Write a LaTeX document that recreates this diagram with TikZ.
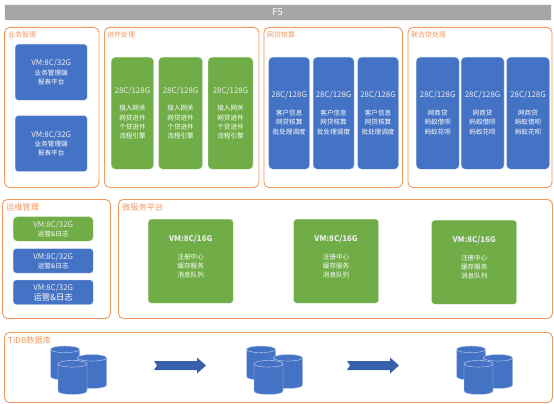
\documentclass[tikz,border=0pt]{standalone}
\usepackage{fontspec}
\setmainfont{Noto Sans CJK SC}
\usetikzlibrary{positioning}
\definecolor{Bleu}{RGB}{68,114,196}
\definecolor{BleuFonce}{RGB}{56,96,170}
\definecolor{Vert}{RGB}{112,173,71}
\definecolor{Gris}{RGB}{166,166,166}
\definecolor{Cadre}{RGB}{244,151,92}
\tikzset{panel/.style={rectangle, rounded corners=5pt, draw=Cadre, fill=white,
  line width=0.9pt, anchor=north west}}
\tikzset{titre/.style={text=Cadre, font=\fontsize{7}{8}\selectfont, inner sep=0pt, anchor=north west}}
\tikzset{titreg/.style={titre, font=\fontsize{8.2}{9}\selectfont}}
\tikzset{boite/.style={rectangle, rounded corners=4pt, draw=white!75!Bleu, line width=0.4pt,
  fill=Bleu, text=white, align=center, inner sep=0pt, anchor=north west,
  font=\fontsize{6.6}{9.4}\selectfont}}
\tikzset{gboite/.style={boite, fill=Vert, draw=white!75!Vert}}
\tikzset{vmbox/.style={boite, rounded corners=3pt, minimum width=72pt, minimum height=56pt}}
\tikzset{opsbox/.style={boite, rounded corners=3pt, minimum width=80pt, minimum height=24.5pt}}
\tikzset{svcbox/.style={gboite, rounded corners=3pt, minimum width=85pt, minimum height=84pt}}
\tikzset{cuve/.pic={
  \draw[draw=white!70!Bleu, line width=0.4pt, fill=Bleu] (-14.5,-13.7) -- (-14.5,13.7)
    .. controls (-14.5,18.1) and (14.5,18.1) .. (14.5,13.7) -- (14.5,-13.7)
    .. controls (14.5,-18.1) and (-14.5,-18.1) .. (-14.5,-13.7) -- cycle;
  \draw[draw=white!70!Bleu, line width=0.4pt] (-14.5,-13.7)
    .. controls (-14.5,-9.3) and (14.5,-9.3) .. (14.5,-13.7);}}
\tikzset{fleche/.style={fill=BleuFonce}}
\newcommand{\spec}[1]{{\fontsize{7.9}{9.4}\selectfont\color{white!85!gray} #1}}
\begin{document}
\begin{tikzpicture}[x=1pt, y=-1pt]
\useasboundingbox (0,0) rectangle (554,404);
% entree
\node[rectangle, draw=white!85!Gris, fill=Gris, text=white, anchor=north west, inner sep=0pt,
  minimum width=547pt, minimum height=16pt, font=\fontsize{9.5}{10}\selectfont] (fcinq) at (4,4) {F5};
% ligne du haut
\node[panel, minimum width=94.5pt, minimum height=160pt] (gestion) at (4,27) {};
\node[titre] (tgestion) at (8,31) {业务管理};
\node[vmbox] (gest1) at (15,44) {\spec{VM:8C/32G}\\业务管理端\\报表平台};
\node[vmbox, below=15pt of gest1] (gest2) {\spec{VM:8C/32G}\\业务管理端\\报表平台};

\node[panel, minimum width=154.5pt, minimum height=160pt] (entree) at (104,27) {};
\node[titre] (tentree) at (107,31) {进件处理};
\node[gboite, minimum width=42.5pt, minimum height=112pt] (ent1) at (111,57) {\spec{28C/128G}\\[8pt]接入网关\\网贷进件\\个贷进件\\流程引擎};
\node[gboite, minimum width=44pt, minimum height=112pt, right=4.5pt of ent1] (ent2) {\spec{28C/128G}\\[8pt]接入网关\\网贷进件\\个贷进件\\流程引擎};
\node[gboite, minimum width=45pt, minimum height=112pt, right=5pt of ent2] (ent3) {\spec{28C/128G}\\[8pt]接入网关\\网贷进件\\个贷进件\\流程引擎};

\node[panel, minimum width=138.5pt, minimum height=160pt] (compta) at (263.5,27) {};
\node[titre] (tcompta) at (267,31) {网贷核算};
\node[boite, minimum width=41pt, minimum height=112pt] (cpt1) at (268.5,57) {\spec{28C/128G}\\[8pt]客户信息\\网贷核算\\批处理调度};
\node[boite, minimum width=41pt, minimum height=112pt, right=3pt of cpt1] (cpt2) {\spec{28C/128G}\\[8pt]客户信息\\网贷核算\\批处理调度};
\node[boite, minimum width=41pt, minimum height=112pt, right=3pt of cpt2] (cpt3) {\spec{28C/128G}\\[8pt]客户信息\\网贷核算\\批处理调度};

\node[panel, minimum width=144pt, minimum height=160pt] (joint) at (407.5,27) {};
\node[titre] (tjoint) at (411,31) {联合贷处理};
\node[boite, minimum width=43pt, minimum height=112pt] (jnt1) at (416,57) {\spec{28C/128G}\\[8pt]网商贷\\蚂蚁借呗\\蚂蚁花呗};
\node[boite, minimum width=43pt, minimum height=112pt, right=1.5pt of jnt1] (jnt2) {\spec{28C/128G}\\[8pt]网商贷\\蚂蚁借呗\\蚂蚁花呗};
\node[boite, minimum width=43pt, minimum height=112pt, right=2pt of jnt2] (jnt3) {\spec{28C/128G}\\[8pt]网商贷\\蚂蚁借呗\\蚂蚁花呗};
% ligne du milieu
\node[panel, minimum width=108pt, minimum height=119pt] (exploit) at (2,199) {};
\node[titreg] (texploit) at (6,203) {运维管理};
\node[opsbox, gboite] (ops1) at (13,216.5) {\spec{VM:8C/32G}\\运管\&日志};
\node[opsbox, below=7pt of ops1] (ops2) {\spec{VM:8C/32G}\\运管\&日志};
\node[opsbox, below=6.5pt of ops2, font=\fontsize{8.4}{10}\selectfont] (ops3) {\spec{VM:8C/32G}\\运管\&日志};

\node[panel, minimum width=434pt, minimum height=119pt] (micro) at (118,199) {};
\node[titreg] (tmicro) at (122,203) {微服务平台};
\node[svcbox] (svc1) at (148,219) {\textbf{\spec{VM:8C/16G}}\\[8pt]注册中心\\缓存服务\\消息队列\\~};
\node[svcbox, right=60pt of svc1] (svc2) {\textbf{\spec{VM:8C/16G}}\\[8pt]注册中心\\缓存服务\\消息队列\\~};
\node[svcbox, anchor=north west] (svc3) at (431.5,220) {\textbf{\spec{VM:8C/16G}}\\[8pt]注册中心\\缓存服务\\消息队列\\~};
% base de donnees
\node[panel, minimum width=548pt, minimum height=70pt] (tidb) at (4,332) {};
\node[titreg] (ttidb) at (8,336) {TiDB数据库};
\pic at (65,363) {cuve};
\pic at (92,371.5) {cuve};
\pic at (72.5,377.5) {cuve};
\pic at (261,363) {cuve};
\pic at (288,371.5) {cuve};
\pic at (268.5,377.5) {cuve};
\pic at (471,363) {cuve};
\pic at (498,371.5) {cuve};
\pic at (478.5,377.5) {cuve};
\coordinate (fl1) at (154,361);
\coordinate (fl2) at (347,361);
\fill[fleche] (fl1) -- ++(43,0) -- ++(0,-3.5) -- ++(9,8) -- ++(-9,8) -- ++(0,-3.5) -- ++(-43,0) -- ++(3,-4.5) -- cycle;
\fill[fleche] (fl2) -- ++(43,0) -- ++(0,-3.5) -- ++(9,8) -- ++(-9,8) -- ++(0,-3.5) -- ++(-43,0) -- ++(3,-4.5) -- cycle;
\end{tikzpicture}
\end{document}
